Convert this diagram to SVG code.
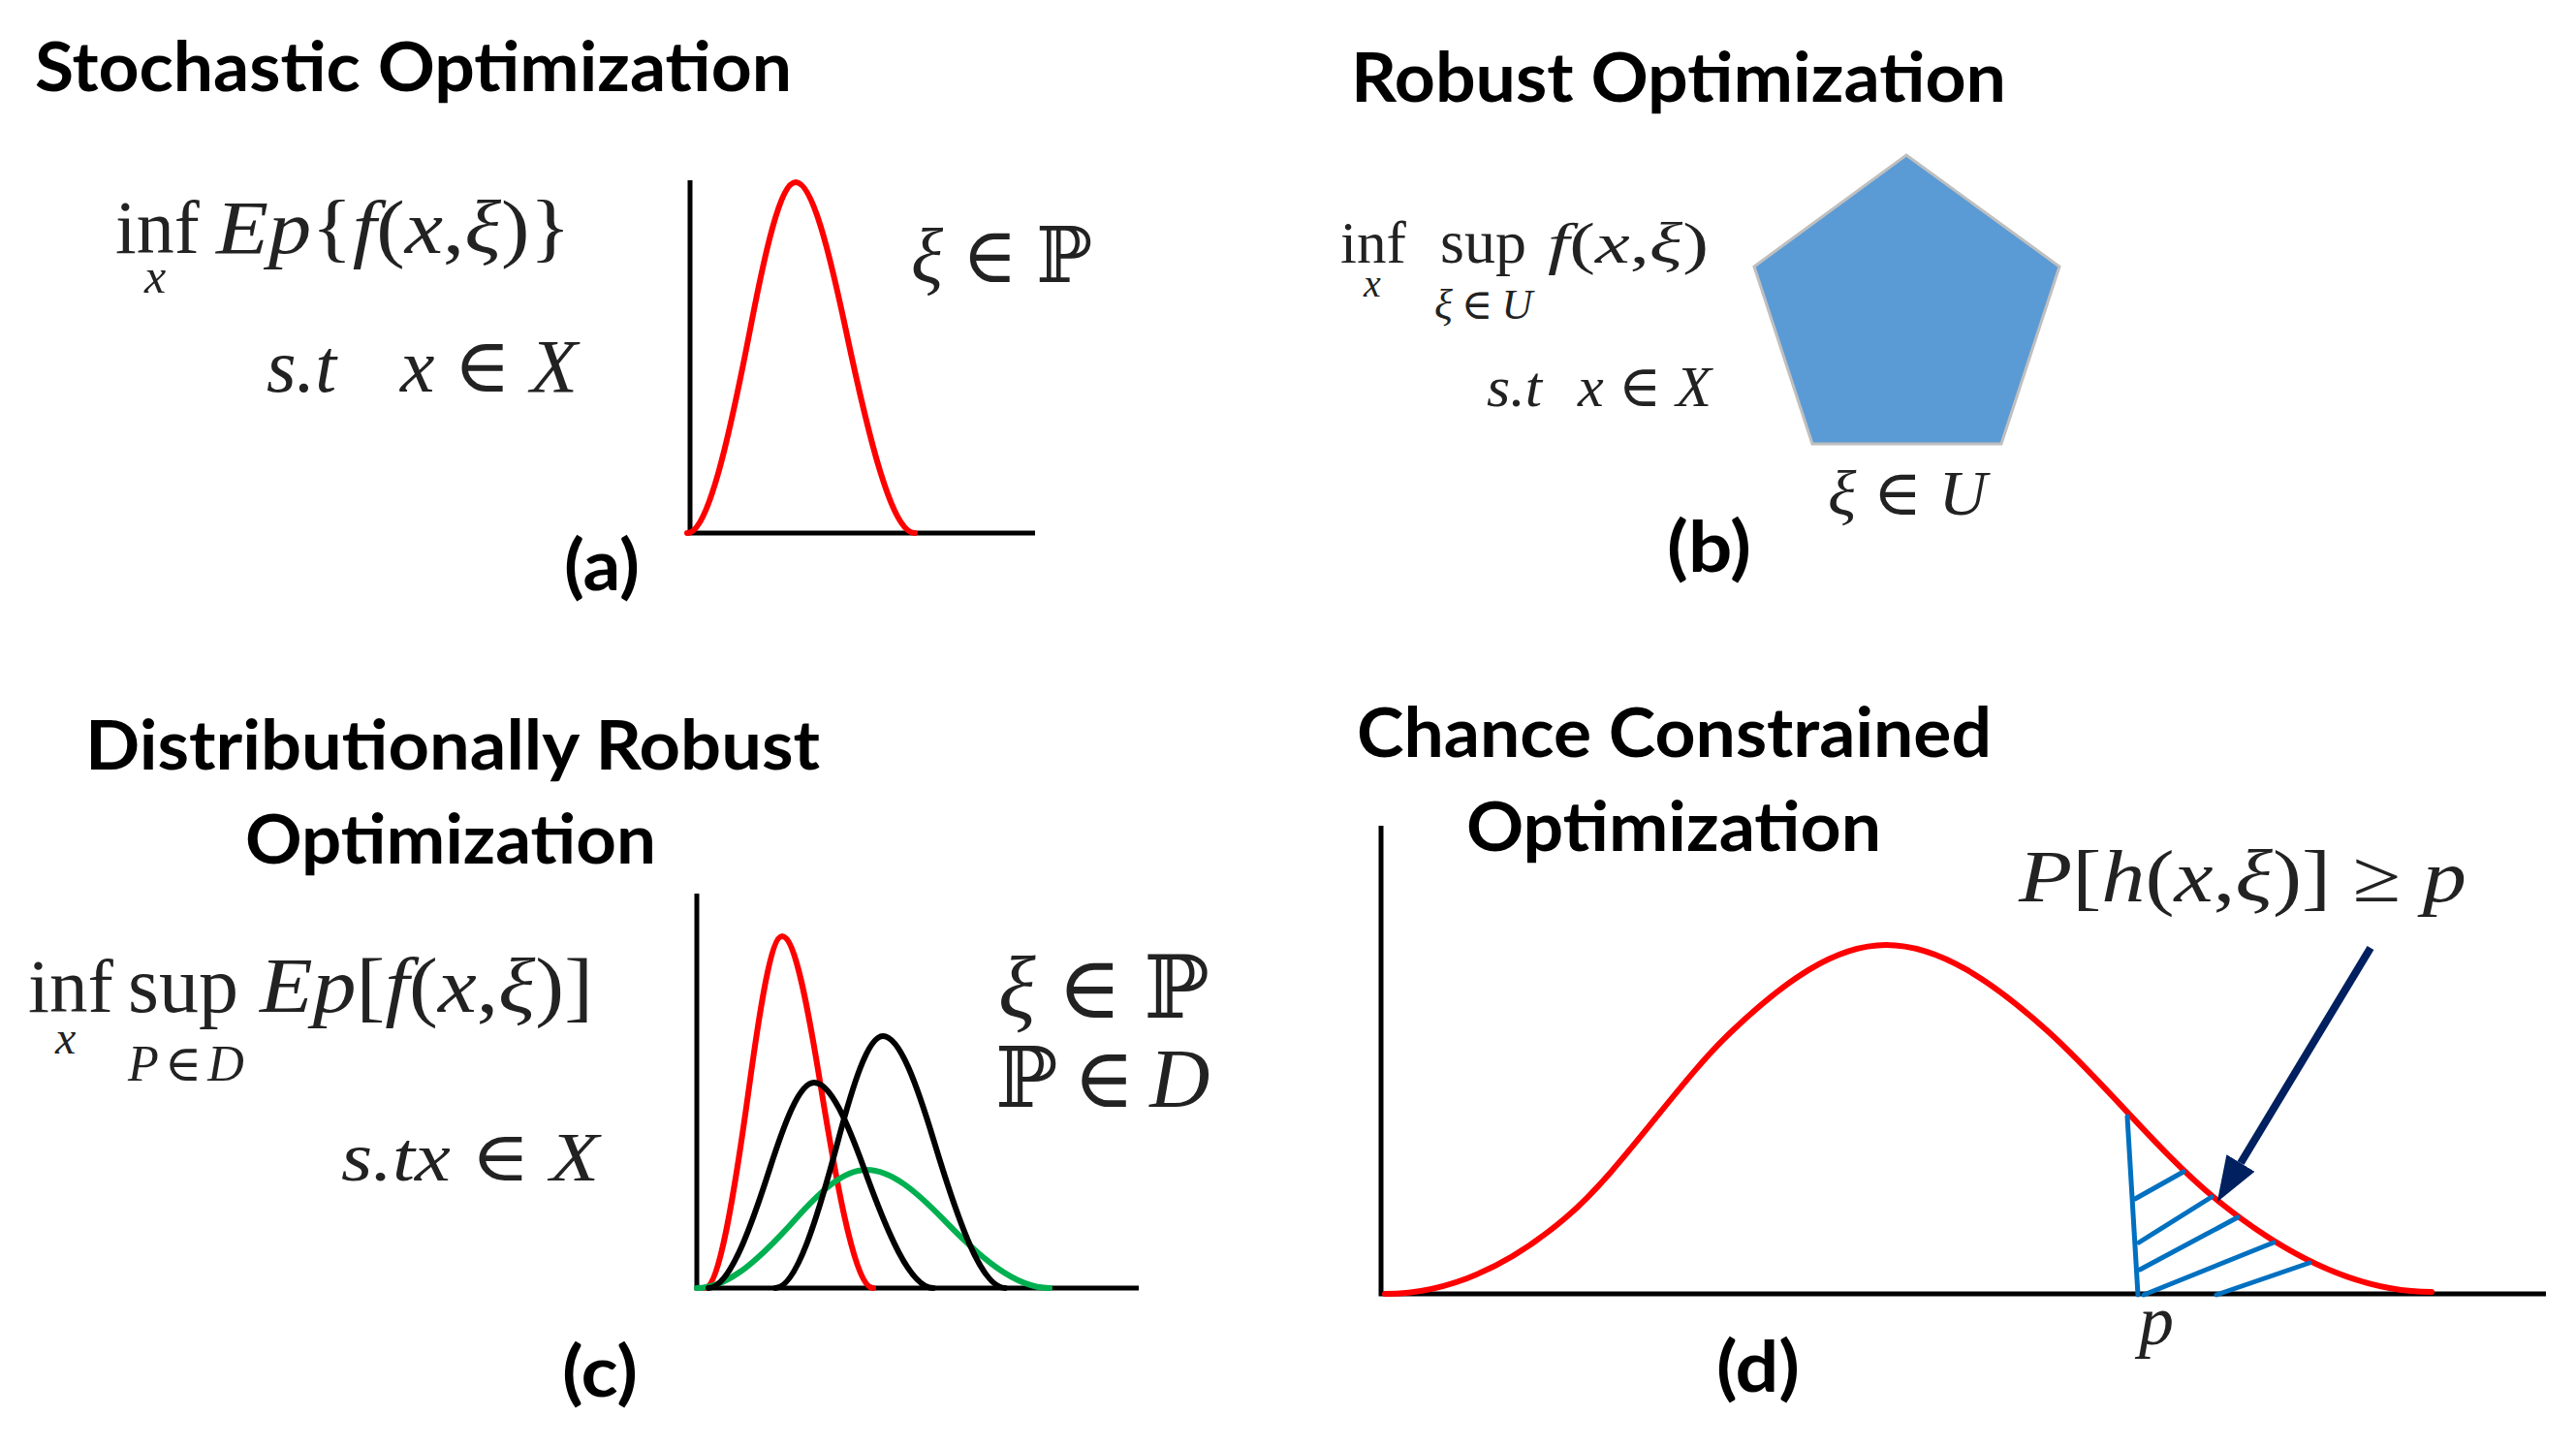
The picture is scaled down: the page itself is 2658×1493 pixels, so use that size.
<svg xmlns="http://www.w3.org/2000/svg" width="2658" height="1493" viewBox="0 0 2658 1493">
<defs>
<style>
.t{font-family:Lato,"Open Sans","Liberation Sans",sans-serif;font-weight:700;fill:#000}
.m{font-family:"Liberation Serif","DejaVu Serif",serif;fill:#222}
.i{font-style:italic}
.ax{stroke:#000;stroke-width:5;fill:none}
.red{stroke:#FF0000;stroke-width:6;fill:none;stroke-linecap:round}
.blk{stroke:#000;stroke-width:6;fill:none;stroke-linecap:round}
.grn{stroke:#00B050;stroke-width:6;fill:none;stroke-linecap:round}
.hat{stroke:#0070C0;stroke-width:5;fill:none;stroke-linecap:round}
</style>
<marker id="ah" viewBox="0 0 47 34" refX="0" refY="17" markerWidth="47" markerHeight="34" markerUnits="userSpaceOnUse" orient="auto">
<path d="M0,0 L47,17 L0,34 Z" fill="#002060"/>
</marker>
</defs>
<rect width="2658" height="1493" fill="#fff"/>

<g id="panel-a">
<text class="t" x="36" y="94" font-size="70" textLength="781" lengthAdjust="spacingAndGlyphs">Stochastic Optimization</text>
<text class="m" x="119" y="261" font-size="78">inf<tspan class="i" x="149" y="302" font-size="50">x</tspan></text>
<text class="m" x="223" y="261" font-size="78" textLength="366" lengthAdjust="spacingAndGlyphs"><tspan class="i">Ep</tspan>{<tspan class="i">f</tspan>(<tspan class="i">x</tspan>,<tspan class="i">ξ</tspan>)}</text>
<text class="m i" x="275" y="404" font-size="78" textLength="72" lengthAdjust="spacingAndGlyphs">s.t</text>
<text class="m" x="413" y="404" font-size="78" textLength="183" lengthAdjust="spacingAndGlyphs"><tspan class="i">x</tspan> ∈ <tspan class="i">X</tspan></text>
<text class="m" x="940" y="291" font-size="80" textLength="187" lengthAdjust="spacingAndGlyphs"><tspan class="i">ξ</tspan> ∈ ℙ</text>
<path class="ax" d="M712,186 V550 H1068"/>
<path class="red" d="M709,550 C730.6,550 752.3,451.9 774,340 C789.6,258.9 805.3,188 821,188 C838.2,188 855.4,258.9 872.7,340 C896.4,451.9 920.3,550 944,550"/>
<text class="t" x="582" y="609" font-size="72" textLength="78" lengthAdjust="spacingAndGlyphs">(a)</text>
</g>

<g id="panel-b">
<text class="t" x="1394" y="105" font-size="70" textLength="676" lengthAdjust="spacingAndGlyphs">Robust Optimization</text>
<text class="m" x="1383" y="271" font-size="61">inf<tspan class="i" x="1407" y="306" font-size="40">x</tspan></text>
<text class="m" x="1486" y="271" font-size="64">sup<tspan x="1480" y="329" font-size="44" letter-spacing="9"><tspan class="i">ξ</tspan>∈<tspan class="i">U</tspan></tspan></text>
<text class="m" x="1597" y="271" font-size="60" textLength="166" lengthAdjust="spacingAndGlyphs"><tspan class="i">f</tspan>(<tspan class="i">x</tspan>,<tspan class="i">ξ</tspan>)</text>
<text class="m i" x="1534" y="419" font-size="60" textLength="57" lengthAdjust="spacingAndGlyphs">s.t</text>
<text class="m" x="1628" y="419" font-size="60" textLength="138" lengthAdjust="spacingAndGlyphs"><tspan class="i">x</tspan> ∈ <tspan class="i">X</tspan></text>
<polygon points="1967,160 2125,275 2065,458 1870,458 1810,275" fill="#5B9BD5" stroke="#BFBFBF" stroke-width="3"/>
<text class="m" x="1886" y="531" font-size="66" textLength="164" lengthAdjust="spacingAndGlyphs"><tspan class="i">ξ</tspan> ∈ <tspan class="i">U</tspan></text>
<text class="t" x="1720" y="590" font-size="72" textLength="87" lengthAdjust="spacingAndGlyphs">(b)</text>
</g>

<g id="panel-c">
<text class="t" x="88" y="794" font-size="70" textLength="758" lengthAdjust="spacingAndGlyphs">Distributionally Robust</text>
<text class="t" x="253" y="891" font-size="70" textLength="424" lengthAdjust="spacingAndGlyphs">Optimization</text>
<text class="m" x="29" y="1044" font-size="79">inf<tspan class="i" x="57" y="1087" font-size="48">x</tspan></text>
<text class="m" x="132" y="1044" font-size="82">sup<tspan x="132" y="1115" font-size="52" letter-spacing="6"><tspan class="i">P</tspan>∈<tspan class="i">D</tspan></tspan></text>
<text class="m" x="268" y="1044" font-size="80" textLength="344" lengthAdjust="spacingAndGlyphs"><tspan class="i">Ep</tspan>[<tspan class="i">f</tspan>(<tspan class="i">x</tspan>,<tspan class="i">ξ</tspan>)]</text>
<text class="m" x="352" y="1218" font-size="72" textLength="266" lengthAdjust="spacingAndGlyphs"><tspan class="i">s.tx</tspan> ∈ <tspan class="i">X</tspan></text>
<text class="m" x="1030" y="1050" font-size="90"><tspan class="i">ξ</tspan> ∈ ℙ<tspan x="1027" y="1142" font-size="86" letter-spacing="-3">ℙ ∈ <tspan class="i">D</tspan></tspan></text>
<path class="ax" d="M719,922 V1329 H1175"/>
<path class="red" d="M727,1329 C742.4,1329 758,1230.6 773.4,1118.5 C784.6,1037.2 795.8,966 807,966 C820.2,966 833.3,1037.2 846.5,1118.5 C864.6,1230.6 882.9,1329 901,1329"/>
<path class="grn" d="M719,1329 C752.8,1329 786.7,1296 820.5,1258.2 C845,1231 869.5,1207 894,1207 C920.5,1207 946.9,1231 973.4,1258.2 C1009.9,1296 1046.5,1329 1083,1329"/>
<path class="blk" d="M731,1329 C752,1329 773.2,1271.5 794.2,1206 C809.5,1158.6 824.7,1117 840,1117 C857.2,1117 874.4,1158.6 891.7,1206 C915.4,1271.5 939.3,1329 963,1329"/>
<path class="blk" d="M800,1329 C821.4,1329 843,1258.5 864.4,1178.2 C879.9,1120 895.5,1069 911,1069 C928.6,1069 946.3,1120 963.9,1178.2 C988.2,1258.5 1012.7,1329 1037,1329"/>
<text class="t" x="580" y="1441" font-size="72" textLength="78" lengthAdjust="spacingAndGlyphs">(c)</text>
</g>

<g id="panel-d">
<text class="t" x="1400" y="781" font-size="70" textLength="655" lengthAdjust="spacingAndGlyphs">Chance Constrained</text>
<text class="t" x="1513" y="878" font-size="70" textLength="428" lengthAdjust="spacingAndGlyphs">Optimization</text>
<text class="m" x="2083" y="930" font-size="76" textLength="462" lengthAdjust="spacingAndGlyphs"><tspan class="i">P</tspan>[<tspan class="i">h</tspan>(<tspan class="i">x</tspan>,<tspan class="i">ξ</tspan>)] ≥ <tspan class="i">p</tspan></text>
<path class="ax" d="M1425,852 V1335 H2627"/>
<path class="red" stroke-width="7" d="M1429,1335 C1491,1335 1554,1309 1616,1256 C1673,1207.5 1730,1118 1787,1064 C1840,1013.6 1893,975 1946,975 C2001.7,975 2057.3,1013.9 2113,1064 C2170.3,1115.6 2227.7,1189 2285,1236 C2359.7,1297.3 2434.3,1333 2509,1333"/>
<path class="hat" stroke-width="8" d="M2195,1152 L2206,1336"/>
<path class="hat" d="M2203,1237 L2253,1209 M2207,1282 L2282,1235 M2208,1310 L2309,1256 M2212,1336 L2346,1282 M2287,1336 L2383,1303"/>
<text class="m i" x="2207" y="1387" font-size="72">p</text>
<text class="t" x="1771" y="1436" font-size="72" textLength="86" lengthAdjust="spacingAndGlyphs">(d)</text>
</g>

<g id="connectors">
<line x1="2446" y1="978" x2="2312" y2="1200" stroke="#002060" stroke-width="8" marker-end="url(#ah)"/>
</g>
</svg>
